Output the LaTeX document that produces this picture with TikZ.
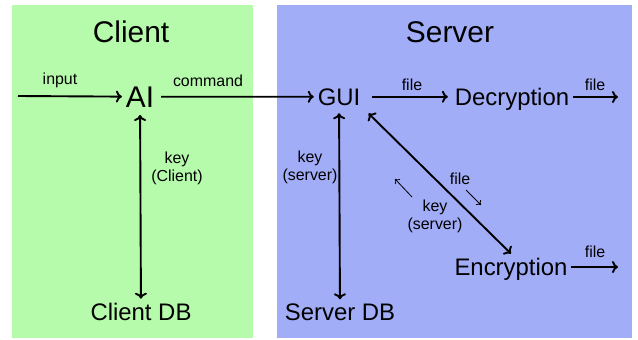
\documentclass[tikz,border=0pt]{standalone}
\usepackage{fontspec}
\setmainfont{Liberation Sans}
\usetikzlibrary{arrows.meta,positioning}
\definecolor{clientgreen}{RGB}{182,250,171}
\definecolor{serverblue}{RGB}{162,173,247}

\begin{document}
\begin{tikzpicture}[x=1bp,y=-1bp,
    every node/.style={inner sep=0pt,outer sep=4pt,align=center},
    title/.style={font=\fontsize{30}{32}\selectfont,anchor=base},
    part/.style={font=\fontsize{24}{26}\selectfont,anchor=base},
    lbl/.style={font=\fontsize{16}{18}\selectfont,outer sep=0pt},
    flow/.style={-{To[length=6bp,width=12bp]},line width=1.9bp},
    both/.style={{To[length=6bp,width=12bp]}-{To[length=6bp,width=12bp]},line width=1.9bp},
    hint/.style={-{To[length=4bp,width=7bp]},line width=0.8bp}]
    \fill[white] (0,0) rectangle (638,339);
    \useasboundingbox (0,0) rectangle (638,339);
    % the two sides
    \fill[clientgreen] (12,5) rectangle (253,338);
    \fill[serverblue] (277,5) rectangle (632,338);
    \node[title] (client) at (131,42) {Client};
    \node[title] (server) at (450,42) {Server};
    % parts
    \node[title] (ai) at (140,107) {AI};
    \node[part] (gui) at (339,105) {GUI};
    \node[part] (dec) at (512,105) {Decryption};
    \node[part] (enc) at (511,275) {Encryption};
    \node[part] (cdb) at (141,320) {Client DB};
    \node[part] (sdb) at (340,320) {Server DB};
    \coordinate (in) at (18,96);
    \coordinate (dout) at (618,97);
    \coordinate (eout) at (618,267);
    % connectors
    \draw[flow] (in) -- (ai);
    \draw[flow,shorten <=3bp] (ai) -- (gui);
    \draw[flow,shorten <=8bp,shorten >=3bp] (gui.east) -- (gui.east -| dec.west);
    \draw[flow] (dec.east |- dout) -- (dout);
    \draw[flow] (enc.east |- eout) -- (eout);
    \draw[both,shorten <=4bp] (ai) -- (cdb);
    \draw[both,shorten <=4bp] (gui) -- (sdb);
    \draw[both,shorten <=6bp] (gui.south east) -- (enc.north);
    % labels
    \node[lbl] (inlbl) at (60,80) {input};
    \node[lbl] (cmdlbl) at (208,81) {command};
    \node[lbl] (ckey) at (177,168) {key\\(Client)};
    \node[lbl] (skey) at (310,167) {key\\(server)};
    \node[lbl] (f1) at (412,85) {file};
    \node[lbl] (f2) at (595,85) {file};
    \node[lbl] (f3) at (595,252) {file};
    \node[lbl] (f4) at (460,179) {file};
    \node[lbl] (dkey) at (435,216) {key\\(server)};
    % direction hints beside the diagonal
    \coordinate (h1a) at (466,190);
    \coordinate (h1b) at (481,205);
    \coordinate (h2a) at (412,197);
    \coordinate (h2b) at (395,179);
    \draw[hint] (h1a) -- (h1b);
    \draw[hint] (h2a) -- (h2b);
\end{tikzpicture}
\end{document}
